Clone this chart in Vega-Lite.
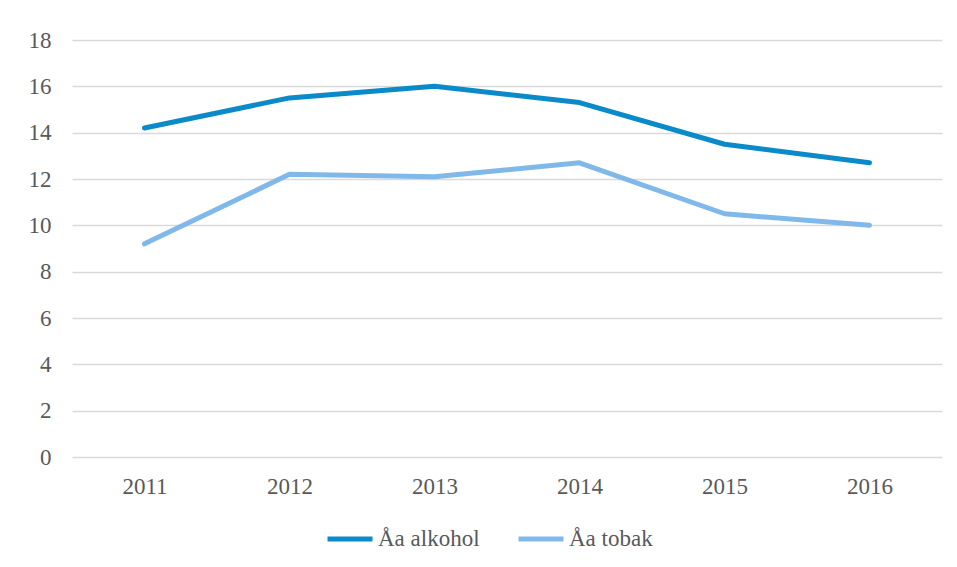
{
  "$schema": "https://vega.github.io/schema/vega-lite/v6.json",
  "autosize": {"type": "none"},
  "padding": {"left": 72, "top": 40, "right": 15, "bottom": 110},
  "width": 870,
  "height": 417,
  "background": "white",
  "config": {
    "view": {"stroke": null},
    "font": "Liberation Serif",
    "axis": {"labelFont": "Liberation Serif", "labelFontSize": 23, "labelColor": "#595959"},
    "legend": {"labelFont": "Liberation Serif", "labelFontSize": 23, "labelColor": "#595959"}
  },
  "data": {
    "values": [
      {"year": "2011", "serie": "Åa alkohol", "value": 14.2},
      {"year": "2012", "serie": "Åa alkohol", "value": 15.5},
      {"year": "2013", "serie": "Åa alkohol", "value": 16.0},
      {"year": "2014", "serie": "Åa alkohol", "value": 15.3},
      {"year": "2015", "serie": "Åa alkohol", "value": 13.5},
      {"year": "2016", "serie": "Åa alkohol", "value": 12.7},
      {"year": "2011", "serie": "Åa tobak", "value": 9.2},
      {"year": "2012", "serie": "Åa tobak", "value": 12.2},
      {"year": "2013", "serie": "Åa tobak", "value": 12.1},
      {"year": "2014", "serie": "Åa tobak", "value": 12.7},
      {"year": "2015", "serie": "Åa tobak", "value": 10.5},
      {"year": "2016", "serie": "Åa tobak", "value": 10.0}
    ]
  },
  "mark": {"type": "line", "strokeWidth": 5, "strokeCap": "round", "strokeJoin": "round"},
  "encoding": {
    "x": {
      "field": "year", "type": "ordinal",
      "scale": {"type": "point", "padding": 0.5},
      "axis": {
        "title": null, "domain": false, "ticks": false, "labelAngle": 0,
        "labelFont": "Liberation Serif", "labelFontSize": 23, "labelColor": "#595959",
        "labelPadding": 18
      }
    },
    "y": {
      "field": "value", "type": "quantitative",
      "scale": {"domain": [0, 18], "nice": false},
      "axis": {
        "title": null, "domain": false, "ticks": false, "values": [0, 2, 4, 6, 8, 10, 12, 14, 16, 18],
        "grid": true, "gridColor": "#d9d9d9", "gridWidth": 1.5,
        "labelFont": "Liberation Serif", "labelFontSize": 23, "labelColor": "#595959",
        "labelPadding": 21
      }
    },
    "color": {
      "field": "serie", "type": "nominal",
      "scale": {"domain": ["Åa alkohol", "Åa tobak"], "range": ["#0a8ac9", "#80b9e9"]},
      "legend": {
        "title": null, "orient": "none", "direction": "horizontal",
        "legendX": 253, "legendY": 474,
        "symbolType": "stroke", "symbolSize": 2025, "symbolStrokeWidth": 5,
        "labelFont": "Liberation Serif", "labelFontSize": 23, "labelColor": "#595959",
        "labelOffset": 3, "columnPadding": 28
      }
    }
  }
}
